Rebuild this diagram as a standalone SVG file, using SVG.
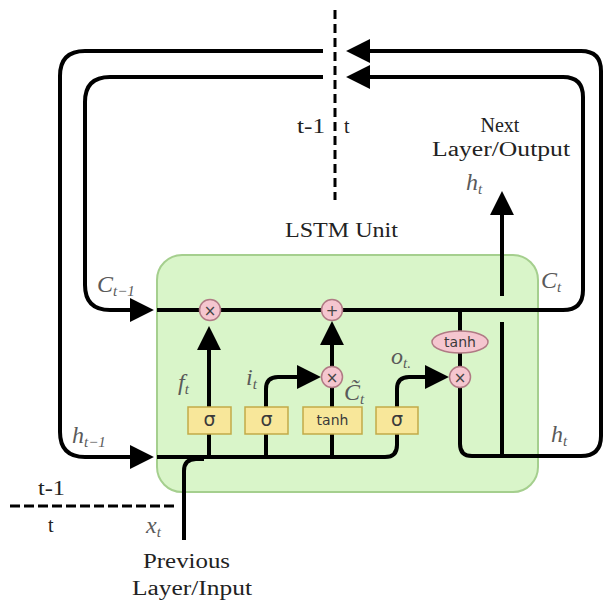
<svg xmlns="http://www.w3.org/2000/svg" width="605" height="602" viewBox="0 0 605 602">
<defs>
<marker id="ah" markerUnits="userSpaceOnUse" markerWidth="24" markerHeight="24" viewBox="0 0 22 22" refX="12" refY="11" orient="auto">
<path d="M0,0 L22,11 L0,22 z" fill="#000"/>
</marker>
<style>
.ln{fill:none;stroke:#000;stroke-width:4}
.arr{marker-end:url(#ah)}
.dash{fill:none;stroke:#000;stroke-width:3;stroke-dasharray:9 5}
.lbl{font-family:"Liberation Serif",serif;font-size:20px;fill:#222}
.math{font-family:"Liberation Serif",serif;font-style:italic;font-size:24px;fill:#5a5a5a}
.sub{font-size:15px}
.op{fill:#f5c6cf;stroke:#b07a84;stroke-width:1.5}
.gate{fill:#f8e79a;stroke:#c2aa48;stroke-width:1.5}
.gt{font-family:"DejaVu Sans",sans-serif;font-size:14px;fill:#3a3a3a;text-anchor:middle}
.sg{font-family:"DejaVu Sans",sans-serif;font-size:19px;fill:#3a3a3a;text-anchor:middle}
.opt{font-family:"DejaVu Sans",sans-serif;font-size:15px;fill:#444;text-anchor:middle}
</style>
</defs>
<rect width="605" height="602" fill="#fff"/>

<g id="lstm-unit">
<rect x="157" y="255" width="381" height="237" rx="25" fill="#d9f5c9" stroke="#a5cf8e" stroke-width="2"/>
</g>

<g id="connectors">
<path class="dash" d="M335 10 V200"/>
<path class="dash" d="M10 506 H178" style="stroke-dasharray:10 4"/>
<path class="ln arr" d="M323 51 H85 Q60 51 60 76 V432 Q60 457 85 457 H143"/>
<path class="ln arr" d="M323 77 H110 Q85 77 85 102 V285 Q85 310 110 310 H143"/>
<path class="ln arr" d="M157 310 H563 Q583 310 583 290 V97 Q583 77 563 77 H357"/>
<path class="ln arr" d="M460 387 V444 Q460 456 472 456 H581 Q601 456 601 436 V71 Q601 51 581 51 H357"/>
<path class="ln" d="M502 456 V322"/>
<path class="ln arr" d="M502 296 V202"/>
<path class="ln" d="M157 457 H385 Q397 457 397 445 V434"/>
<path class="ln" d="M184 540 V471 Q184 459 196 459 H204"/>
<path class="ln" d="M209 434 V457 M266 434 V457 M332 434 V457"/>
<path class="ln arr" d="M209 407 V337"/>
<path class="ln arr" d="M266 407 V389 Q266 377 278 377 H310"/>
<path class="ln" d="M332 407 V387"/>
<path class="ln arr" d="M332 367 V332"/>
<path class="ln arr" d="M397 407 V389 Q397 377 409 377 H438"/>
<path class="ln" d="M460 310 V332 M460 352 V367"/>
</g>

<g id="forget-mul"><circle class="op" cx="210" cy="310" r="10.5"/><text class="opt" x="210" y="315.5">×</text></g>
<g id="cell-add"><circle class="op" cx="332" cy="310" r="10.5"/><text class="opt" x="332" y="315.5">+</text></g>
<g id="input-mul"><circle class="op" cx="332" cy="377" r="10.5"/><text class="opt" x="332" y="382.5">×</text></g>
<g id="output-mul"><circle class="op" cx="460" cy="377" r="10.5"/><text class="opt" x="460" y="382.5">×</text></g>
<g id="tanh-out"><ellipse class="op" cx="460" cy="342" rx="28" ry="11"/><text class="gt" x="460" y="347">tanh</text></g>

<g id="forget-gate"><rect class="gate" x="188" y="407" width="43" height="27"/><text class="sg" x="209.5" y="426">σ</text></g>
<g id="input-gate"><rect class="gate" x="245" y="407" width="43" height="27"/><text class="sg" x="266.5" y="426">σ</text></g>
<g id="candidate"><rect class="gate" x="303" y="407" width="59" height="27"/><text class="gt" x="332.5" y="425">tanh</text></g>
<g id="output-gate"><rect class="gate" x="376" y="407" width="42" height="27"/><text class="sg" x="397" y="426">σ</text></g>

<g id="labels">
<text class="lbl" x="297" y="133" textLength="28" lengthAdjust="spacingAndGlyphs">t-1</text>
<text class="lbl" x="344" y="133">t</text>
<text class="lbl" x="285" y="237" textLength="113" lengthAdjust="spacingAndGlyphs">LSTM Unit</text>
<text class="lbl" x="500" y="132" text-anchor="middle">Next</text>
<text class="lbl" x="432" y="156" textLength="138" lengthAdjust="spacingAndGlyphs">Layer/Output</text>
<text class="lbl" x="38" y="495" textLength="27" lengthAdjust="spacingAndGlyphs">t-1</text>
<text class="lbl" x="48" y="532">t</text>
<text class="lbl" x="143" y="568" textLength="87" lengthAdjust="spacingAndGlyphs">Previous</text>
<text class="lbl" x="132" y="595" textLength="120" lengthAdjust="spacingAndGlyphs">Layer/Input</text>
</g>

<g id="math-labels">
<text class="math" x="466" y="190">h<tspan class="sub" dy="4">t</tspan></text>
<text class="math" x="97" y="292">C<tspan class="sub" dy="4">t−1</tspan></text>
<text class="math" x="541" y="288">C<tspan class="sub" dy="4">t</tspan></text>
<text class="math" x="72" y="443">h<tspan class="sub" dy="4">t−1</tspan></text>
<text class="math" x="551" y="442">h<tspan class="sub" dy="4">t</tspan></text>
<text class="math" x="178" y="390">f<tspan class="sub" dy="4">t</tspan></text>
<text class="math" x="246" y="385">i<tspan class="sub" dy="4">t</tspan></text>
<text class="math" x="391" y="364">o<tspan class="sub" dy="4">t.</tspan></text>
<text class="math" x="344" y="400">C̃<tspan class="sub" dy="4">t</tspan></text>
<text class="math" x="146" y="533">x<tspan class="sub" dy="4">t</tspan></text>
</g>
</svg>
